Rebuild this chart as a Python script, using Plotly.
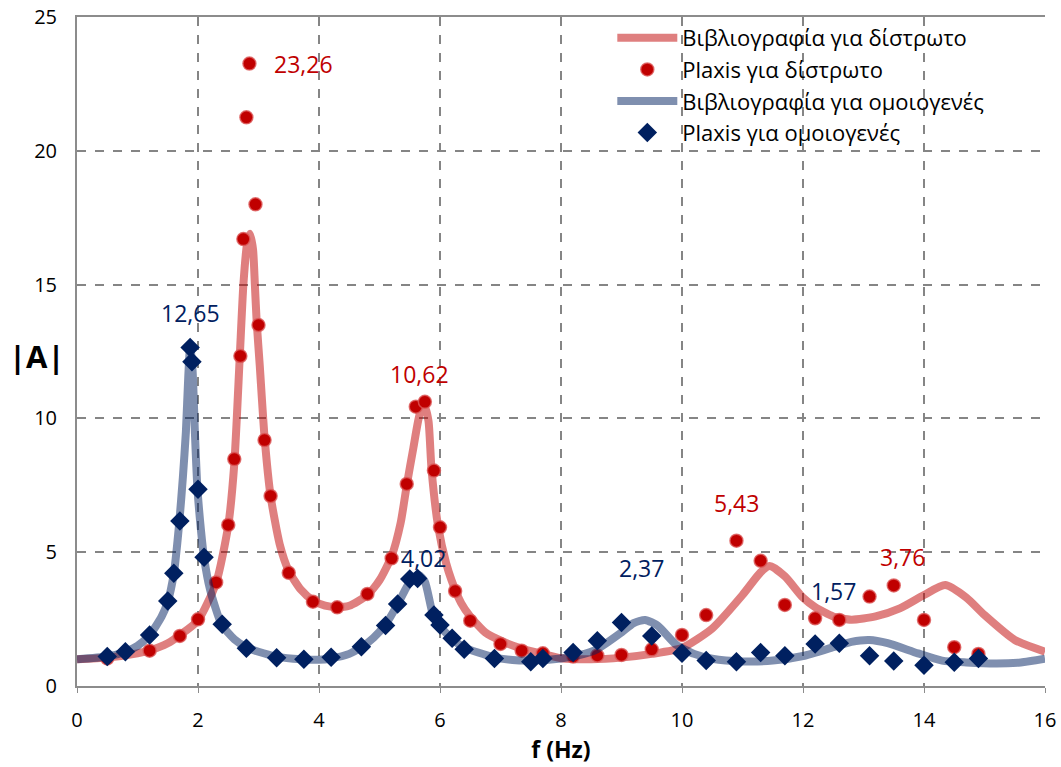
import plotly.graph_objects as go

# Theoretical transfer-function curves (literature)
lit_two_layer_f = [0.0, 0.5, 1.0, 1.2, 1.5, 1.7, 2.0, 2.3, 2.5, 2.6, 2.69, 2.75, 2.81, 2.86,
                   2.91, 2.94, 2.97, 3.02, 3.1, 3.2, 3.35, 3.5, 3.7, 3.9, 4.1, 4.3, 4.5, 4.8,
                   5.0, 5.2, 5.35, 5.45, 5.56, 5.67, 5.75, 5.81, 5.86, 5.97, 6.1, 6.19, 6.35,
                   6.5, 6.75, 7.0, 7.35, 7.7, 8.0, 8.5, 9.0, 9.5, 10.0, 10.5, 11.0, 11.3,
                   11.45, 11.7, 12.0, 12.2, 12.5, 12.8, 13.2, 13.6, 14.0, 14.35, 14.7, 15.0,
                   15.5, 16.0]
lit_two_layer_A = [1.0, 1.06, 1.22, 1.33, 1.6, 1.9, 2.45, 3.85, 6.0, 8.3, 12.3, 15.0, 16.5, 16.9,
                   16.3, 15.0, 13.6, 12.0, 9.3, 7.1, 5.3, 4.3, 3.6, 3.2, 3.0, 2.95, 3.0, 3.4,
                   3.95, 4.85, 6.1, 7.5, 8.9, 10.2, 10.45, 9.9, 8.1, 5.95, 4.6, 3.96, 3.1,
                   2.6, 2.0, 1.7, 1.4, 1.2, 1.04, 1.0, 1.06, 1.2, 1.42, 2.15, 3.4, 4.25,
                   4.48, 4.1, 3.3, 2.95, 2.6, 2.48, 2.6, 2.9, 3.4, 3.77, 3.3, 2.65,
                   1.72, 1.28]

lit_uniform_f = [0.0, 0.5, 0.8, 1.0, 1.2, 1.4, 1.5, 1.6, 1.69, 1.75, 1.8, 1.84, 1.87, 1.91,
                 1.95, 1.99, 2.05, 2.1, 2.2, 2.39, 2.6, 2.8, 3.0, 3.3, 3.7, 4.0, 4.2, 4.5,
                 4.7, 4.9, 5.1, 5.3, 5.45, 5.55, 5.65, 5.75, 5.88, 5.98, 6.18, 6.39, 6.88,
                 7.2, 7.5, 8.0, 8.3, 8.6, 9.0, 9.2, 9.39, 9.6, 9.9, 10.2, 10.5, 11.0, 11.5,
                 12.0, 12.5, 12.8, 13.1, 13.4, 13.9, 14.3, 14.7, 15.2, 15.6, 16.0]
lit_uniform_A = [1.0, 1.1, 1.28, 1.5, 1.9, 2.6, 3.15, 4.2, 6.1, 7.8, 9.5, 11.6, 12.7, 11.8,
                 9.4, 7.4, 5.8, 4.8, 3.6, 2.3, 1.75, 1.45, 1.28, 1.1, 1.0, 0.98, 1.03, 1.2,
                 1.45, 1.8, 2.3, 3.05, 3.7, 4.05, 4.15, 3.9, 2.7, 2.3, 1.8, 1.45, 1.08,
                 0.97, 0.95, 1.03, 1.15, 1.38, 2.0, 2.35, 2.47, 2.25, 1.55, 1.2, 1.02, 0.92, 0.95,
                 1.12, 1.45, 1.65, 1.72, 1.6, 1.22, 0.95, 0.88, 0.84, 0.88, 1.02]

# Plaxis results
plaxis_two_layer_f = [0.5, 1.2, 1.7, 2.0, 2.3, 2.5, 2.6, 2.7, 2.75, 2.8, 2.85, 2.95, 3.0, 3.1,
                      3.2, 3.5, 3.9, 4.3, 4.8, 5.2, 5.45, 5.6, 5.75, 5.9, 6.0, 6.25, 6.5, 7.0,
                      7.35, 7.7, 8.2, 8.6, 9.0, 9.5, 10.0, 10.4, 10.9, 11.3, 11.7, 12.2, 12.6,
                      13.1, 13.5, 14.0, 14.5, 14.9]
plaxis_two_layer_A = [1.03, 1.32, 1.87, 2.49, 3.87, 6.02, 8.48, 12.33, 16.7, 21.25, 23.26, 18.0,
                      13.49, 9.19, 7.1, 4.23, 3.15, 2.94, 3.44, 4.77, 7.55, 10.44, 10.62, 8.05,
                      5.93, 3.55, 2.44, 1.57, 1.32, 1.22, 1.1, 1.14, 1.16, 1.37, 1.91, 2.65,
                      5.43, 4.68, 3.03, 2.53, 2.47, 3.34, 3.76, 2.47, 1.45, 1.2]

plaxis_uniform_f = [0.5, 0.8, 1.2, 1.5, 1.6, 1.7, 1.87, 1.9, 2.0, 2.1, 2.4, 2.8, 3.3, 3.75,
                    4.2, 4.7, 5.1, 5.3, 5.5, 5.63, 5.9, 6.0, 6.2, 6.4, 6.9, 7.5, 7.7, 8.2,
                    8.6, 9.0, 9.5, 10.0, 10.4, 10.9, 11.3, 11.7, 12.2, 12.6, 13.1, 13.5,
                    14.0, 14.5, 14.9]
plaxis_uniform_A = [1.1, 1.28, 1.91, 3.18, 4.21, 6.17, 12.65, 12.12, 7.35, 4.81, 2.31, 1.41,
                    1.06, 1.0, 1.07, 1.47, 2.26, 3.06, 4.0, 4.02, 2.65, 2.28, 1.78, 1.37, 1.03,
                    0.91, 1.03, 1.25, 1.69, 2.37, 1.87, 1.22, 0.95, 0.91, 1.25, 1.13, 1.57,
                    1.6, 1.13, 0.93, 0.78, 0.89, 1.03]

# Labelled peaks: (frequency, value, x offset px, y offset px)
two_layer_labels = [(2.85, 23.26, 54, 0), (5.75, 10.62, -5, 28), (10.9, 5.43, 0, 38),
                    (13.5, 3.76, 9, 28)]
uniform_labels = [(1.87, 12.65, 0, 34), (5.63, 4.02, 6, 20), (9.0, 2.37, 20, 55),
                  (12.2, 1.57, 18, 53)]

RED = "#C00000"
NAVY = "#002060"
FONT = "Open Sans"

fig = go.Figure()
fig.add_trace(go.Scatter(
    x=lit_two_layer_f, y=lit_two_layer_A, mode="lines",
    name="Βιβλιογραφία για δίστρωτο",
    line=dict(color="rgba(192,0,0,0.5)", width=8, shape="spline", smoothing=0.6)))
fig.add_trace(go.Scatter(
    x=plaxis_two_layer_f, y=plaxis_two_layer_A, mode="markers",
    name="Plaxis για δίστρωτο",
    marker=dict(symbol="circle", size=13, color=RED,
                line=dict(color="rgba(220,90,90,0.8)", width=1.5))))
fig.add_trace(go.Scatter(
    x=lit_uniform_f, y=lit_uniform_A, mode="lines",
    name="Βιβλιογραφία για ομοιογενές",
    line=dict(color="rgba(0,32,96,0.5)", width=8, shape="spline", smoothing=0.6)))
fig.add_trace(go.Scatter(
    x=plaxis_uniform_f, y=plaxis_uniform_A, mode="markers",
    name="Plaxis για ομοιογενές",
    marker=dict(symbol="diamond", size=15, color=NAVY, line=dict(width=0))))

annotations = []
for f, a, dx, dy in two_layer_labels:
    annotations.append(dict(x=f, y=a, xref="x", yref="y", text=f"{a:.2f}".replace(".", ","),
                            showarrow=False, xshift=dx, yshift=dy,
                            font=dict(family=FONT, size=23, color=RED)))
for f, a, dx, dy in uniform_labels:
    annotations.append(dict(x=f, y=a, xref="x", yref="y", text=f"{a:.2f}".replace(".", ","),
                            showarrow=False, xshift=dx, yshift=dy,
                            font=dict(family=FONT, size=23, color=NAVY)))
# y-axis title, horizontal, left of the tick labels
annotations.append(dict(x=-0.041, y=0.493, xref="paper", yref="paper", text="<b>|A|</b>",
                        xanchor="center", yanchor="middle", showarrow=False,
                        font=dict(family=FONT, size=31, color="black")))
fig.update_layout(annotations=annotations)

grid = dict(showgrid=True, gridcolor="#858585", gridwidth=2, griddash="dash", zeroline=False)
fig.update_xaxes(range=[0, 16], dtick=2, tick0=0, showline=True, linecolor="#8c8c8c",
                 linewidth=2, mirror=True, ticks="outside", ticklen=5, tickcolor="#8c8c8c",
                 tickfont=dict(family=FONT, size=20, color="black"), ticklabelstandoff=10,
                 automargin=False,
                 title=dict(text="<b>f (Hz)</b>", font=dict(family=FONT, size=23, color="black"),
                            standoff=0),
                 **grid)
fig.update_yaxes(range=[0, 25], dtick=5, tick0=0, showline=True, linecolor="#8c8c8c",
                 linewidth=2, ticks="", tickfont=dict(family=FONT, size=20, color="black"),
                 ticklabelstandoff=14, automargin=False, **grid)

fig.update_layout(
    width=1061, height=767,
    margin=dict(l=77, r=16, t=17, b=81),
    plot_bgcolor="white", paper_bgcolor="white",
    showlegend=True,
    legend=dict(x=0.553, y=1.0, xanchor="left", yanchor="top", bgcolor="rgba(0,0,0,0)",
                font=dict(family=FONT, size=22, color="black"), tracegroupgap=0,
                itemwidth=60),
)

fig.write_html("out.html")
